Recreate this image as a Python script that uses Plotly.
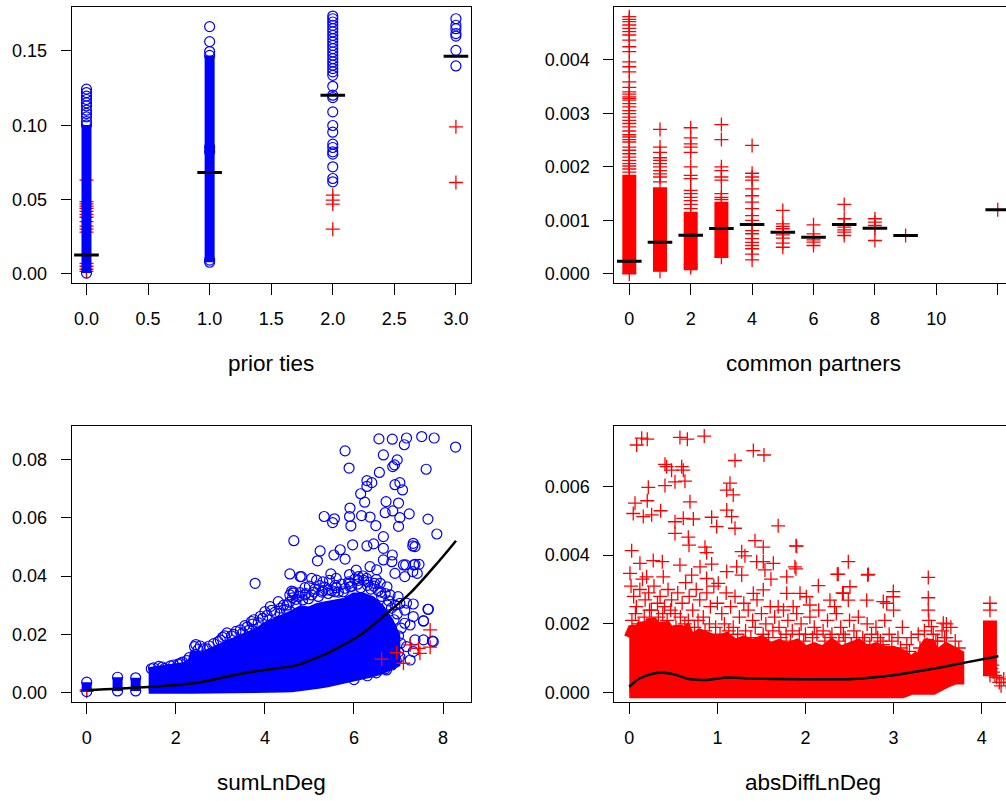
import plotly.graph_objects as go

W, H = 1006, 801
FONT = "Liberation Sans, Arial, Helvetica, sans-serif"
BLUE = "#0000FF"
RED = "#FF0000"
BLACK = "#000000"

# ---------------- prior ties ----------------
ties_cat = [0, 1, 2, 3]
ties_mean = [0.0126, 0.0682, 0.1202, 0.1464]
# dense, fully overlapping runs of circles (category, lowest, highest)
ties_core_x = [0, 1]
ties_core_lo = [0.0004, 0.0077]
ties_core_hi = [0.1002, 0.1470]
ties_blue_0 = [0.0004, 0.1002, 0.1025, 0.1056, 0.1079, 0.1101, 0.1130, 0.1151,
               0.1173, 0.1196, 0.1220, 0.1243]
ties_blue_1 = [0.0077, 0.0092, 0.0822, 0.0851, 0.1470, 0.1496, 0.1563, 0.1664]
ties_blue_2 = [0.1735, 0.1717, 0.1695, 0.1673, 0.1650, 0.1628, 0.1605, 0.1583,
               0.1560, 0.1538, 0.1516, 0.1493, 0.1471, 0.1448, 0.1426, 0.1404,
               0.1381, 0.1359, 0.1336, 0.1262, 0.1202, 0.1186, 0.1090, 0.0998,
               0.0953, 0.0872, 0.0850, 0.0821, 0.0805, 0.0720, 0.0641, 0.0619]
ties_blue_3 = [0.1717, 0.1673, 0.1650, 0.1617, 0.1600, 0.1504, 0.1399]
ties_red_0 = [0.0630, 0.0485, 0.0470, 0.0455, 0.0440, 0.0420, 0.0400, 0.0380,
              0.0350, 0.0320, 0.0300, 0.0280, 0.0070, 0.0050, 0.0030, 0.0015]
ties_red_2 = [0.0529, 0.0496, 0.0469, 0.0300]
ties_red_3 = [0.0989, 0.0614]

# ---------------- common partners ----------------
cp_cat = [0, 1, 2, 3, 4, 5, 6, 7, 8, 9, 12]
cp_mean = [0.000236, 0.000592, 0.000723, 0.000848, 0.000923, 0.000779,
           0.000686, 0.000923, 0.000854, 0.000717, 0.001198]
cp_core_x = [0, 1, 2, 3]
cp_core_lo = [0.00000, 0.00005, 0.00007, 0.00031]
cp_core_hi = [0.00185, 0.00162, 0.00116, 0.00135]
cp_red = {
    0: [0.004806, 0.004756, 0.004712, 0.004650, 0.004587, 0.004525, 0.004463,
        0.004369, 0.004244, 0.004151, 0.003963, 0.003870, 0.003776, 0.003589,
        0.003483, 0.003401, 0.003360, 0.003308, 0.003280, 0.003245, 0.003180,
        0.003120, 0.003050, 0.002995, 0.002930, 0.002870, 0.002810, 0.002745,
        0.002670, 0.002600, 0.002558, 0.002510, 0.002464, 0.002370, 0.002310,
        0.002245, 0.002180, 0.002120, 0.002060, 0.002016, 0.001960, 0.001903,
        0.000000],
    1: [0.00270, 0.00237, 0.00227, 0.00217, 0.00212, 0.00206, 0.00200, 0.00193,
        0.00187, 0.00181, 0.00172, 0.00005],
    2: [0.00273, 0.00254, 0.00243, 0.00237, 0.00227, 0.00200, 0.00184, 0.00178,
        0.00156, 0.00150, 0.00143, 0.00137, 0.00130, 0.00122, 0.00018, 0.00012],
    3: [0.00279, 0.00251, 0.00200, 0.00193, 0.00181, 0.00175, 0.00150, 0.00143,
        0.00139, 0.00031],
    4: [0.00240, 0.00188, 0.00181, 0.00175, 0.00159, 0.00146, 0.00134, 0.00122,
        0.00109, 0.00100, 0.00092, 0.00081, 0.00075, 0.00066, 0.00059, 0.00053,
        0.00047, 0.00037, 0.00026],
    5: [0.001185, 0.000936, 0.000886, 0.000843, 0.000779, 0.000730, 0.000667,
        0.000573, 0.000498],
    6: [0.000917, 0.000749, 0.000686, 0.000637, 0.000592, 0.000530],
    7: [0.001298, 0.001030, 0.000923, 0.000873, 0.000824, 0.000779, 0.000717],
    8: [0.001030, 0.000966, 0.000904, 0.000854, 0.000624],
    9: [0.000717],
    12: [0.001198],
}

# ---------------- sumLnDeg ----------------
sld_fit_x = [0.0, 1.27, 2.39, 3.52, 4.64, 4.79, 5.39, 5.54, 6.14, 6.29, 6.74, 7.26, 7.93, 8.29]
sld_fit_y = [0.0009, 0.0019, 0.0032, 0.0067, 0.0092, 0.0098, 0.0135, 0.0146,
             0.0198, 0.0215, 0.0272, 0.0341, 0.0455, 0.0521]
# stacked columns at the smallest degree sums
sld_col_x = [0.0, 0.693, 1.099]
sld_col_lo = [0.0004, 0.0006, 0.0006]
sld_col_hi = [0.0036, 0.0053, 0.0051]
# outline of the region that is solidly covered by circles
sld_env_x = [1.39, 1.6, 1.8, 2.0, 2.2, 2.35, 2.4, 2.6, 2.8, 3.0, 3.2, 3.4, 3.6, 3.8,
             4.0, 4.2, 4.4, 4.6, 4.8, 5.0, 5.2, 5.4, 5.6, 5.8, 6.0, 6.2, 6.4, 6.6,
             6.8, 6.95]
sld_env_hi = [0.0074, 0.0078, 0.0080, 0.0086, 0.0092, 0.0105, 0.0132, 0.0128,
              0.0142, 0.0160, 0.0175, 0.0182, 0.0195, 0.0205, 0.0228, 0.0240,
              0.0250, 0.0268, 0.0285, 0.0282, 0.0295, 0.0302, 0.0305, 0.0312,
              0.0330, 0.0330, 0.0318, 0.0290, 0.0245, 0.0195]
sld_env_lo = [0.0010, 0.0010, 0.0010, 0.0010, 0.0010, 0.0010, 0.0010, 0.0010,
              0.0010, 0.0010, 0.0010, 0.0011, 0.0011, 0.0012, 0.0012, 0.0013,
              0.0014, 0.0015, 0.0018, 0.0022, 0.0027, 0.0032, 0.0037, 0.0043,
              0.0050, 0.0058, 0.0066, 0.0075, 0.0088, 0.0100]
sld_blue_x = [0.0, 0.0, 0.693, 0.693, 1.099, 1.099,
              1.45, 1.7, 1.95, 2.1, 2.3, 2.42, 2.5, 2.7, 2.85, 3.0, 3.1, 3.3, 3.45,
              3.6, 3.7, 3.75, 3.9, 4.0, 4.12, 4.3, 4.34, 4.5, 4.64, 4.7, 4.9, 5.1,
              5.3, 5.6, 5.9, 6.1, 6.3, 6.45, 6.6, 6.75, 6.9, 7.0,
              6.0, 6.3, 6.5, 6.7, 6.85, 6.95, 7.0, 7.05,
              6.56, 6.86, 7.18, 7.52, 7.80, 8.28, 7.13, 5.80, 6.66, 6.97, 6.91, 6.87,
              5.89, 7.62, 6.57, 6.29, 6.40, 6.29, 6.92, 7.03, 7.09, 6.15, 6.24, 6.72,
              7.00, 5.91, 6.70, 6.87, 7.24, 5.33, 5.56, 5.52, 5.90, 6.17, 6.36, 5.93,
              6.49, 7.03, 7.00, 7.66, 7.86, 6.66, 4.65, 5.97, 6.29, 6.44, 6.66, 7.32,
              5.24, 5.18, 5.55, 5.69, 5.80, 4.56, 4.79, 3.78, 5.48, 6.86, 7.16, 7.37,
              7.46, 7.32, 4.82, 4.64, 4.79, 4.56, 5.05, 5.16, 5.23, 5.42, 5.57, 5.76,
              5.91, 6.10, 6.28, 6.51, 6.66, 6.85, 7.11, 7.34, 7.42, 7.14, 6.92, 7.37,
              7.33, 7.67, 7.56, 7.78, 7.33, 7.14, 7.03, 6.99, 6.81, 6.74, 6.59, 6.36,
              7.26, 7.14, 7.06, 7.37, 7.56, 7.18, 7.33, 6.73, 6.88, 7.03, 7.26, 7.66,
              7.56, 7.76, 7.33, 7.18,
              4.05, 4.15, 4.22, 4.35, 4.42, 4.48, 4.55, 4.62, 4.70, 4.76, 4.85, 4.92,
              4.98, 5.05, 5.12, 5.20, 5.28, 5.35, 5.42, 5.50, 5.58, 5.65, 5.72, 5.80,
              5.88, 5.95, 6.02, 6.08, 6.15, 6.22, 6.30, 6.38, 6.46, 6.54, 6.62, 6.70,
              6.78, 6.84, 6.92, 6.97, 5.00, 5.30, 5.60, 5.90, 6.20, 6.50, 4.60, 4.90,
              5.45, 6.05,
              1.50, 1.62, 1.75, 1.88, 2.05, 2.15, 2.25, 2.45, 2.55, 2.62, 2.75, 2.95,
              3.05, 3.15, 3.25, 3.35, 3.50, 3.55, 3.65, 3.72, 3.85, 3.95]
sld_blue_y = [0.0004, 0.0036, 0.0006, 0.0053, 0.0006, 0.0051,
              0.0082, 0.0088, 0.0095, 0.0100, 0.0120, 0.0158, 0.0148, 0.0150, 0.0168,
              0.0180, 0.0195, 0.0200, 0.0215, 0.0225, 0.0244, 0.0250, 0.0262, 0.0278,
              0.0295, 0.0312, 0.0272, 0.0300, 0.0341, 0.0320, 0.0335, 0.0345, 0.0350,
              0.0360, 0.0375, 0.0385, 0.0380, 0.0365, 0.0345, 0.0300, 0.0250, 0.0195,
              0.0045, 0.0058, 0.0068, 0.0082, 0.0095, 0.0110, 0.0140, 0.0170,
              0.0870, 0.0869, 0.0873, 0.0878, 0.0873, 0.0842, 0.0850, 0.0829, 0.0815,
              0.0798, 0.0781, 0.0775, 0.0770, 0.0766, 0.0755, 0.0727, 0.0720, 0.0707,
              0.0713, 0.0720, 0.0695, 0.0682, 0.0653, 0.0655, 0.0650, 0.0633, 0.0617,
              0.0623, 0.0613, 0.0604, 0.0596, 0.0583, 0.0604, 0.0607, 0.0602, 0.0572,
              0.0573, 0.0600, 0.0570, 0.0595, 0.0544, 0.0535, 0.0521, 0.0507, 0.0503,
              0.0510, 0.0495, 0.0503, 0.0486, 0.0452, 0.0472, 0.0490, 0.0458, 0.0407,
              0.0398, 0.0375, 0.0407, 0.0472, 0.0438, 0.0440, 0.0440, 0.0415, 0.0398,
              0.0346, 0.0343, 0.0335, 0.0392, 0.0386, 0.0367, 0.0352, 0.0346, 0.0346,
              0.0363, 0.0398, 0.0392, 0.0421, 0.0455, 0.0449, 0.0438, 0.0438, 0.0409,
              0.0398, 0.0409, 0.0501, 0.0512, 0.0286, 0.0246, 0.0175, 0.0304, 0.0283,
              0.0306, 0.0329, 0.0335, 0.0363, 0.0375, 0.0432, 0.0232, 0.0238, 0.0221,
              0.0181, 0.0181, 0.0158, 0.0141, 0.0078, 0.0101, 0.0123, 0.0112, 0.0286,
              0.0246, 0.0177, 0.0261, 0.0307,
              0.0265, 0.0282, 0.0275, 0.0290, 0.0300, 0.0285, 0.0310, 0.0325, 0.0305,
              0.0330, 0.0318, 0.0340, 0.0322, 0.0335, 0.0355, 0.0330, 0.0345, 0.0362,
              0.0340, 0.0350, 0.0368, 0.0345, 0.0372, 0.0358, 0.0380, 0.0365, 0.0390,
              0.0372, 0.0360, 0.0385, 0.0368, 0.0355, 0.0375, 0.0350, 0.0330, 0.0340,
              0.0315, 0.0290, 0.0300, 0.0270, 0.0365, 0.0380, 0.0392, 0.0405, 0.0400,
              0.0388, 0.0348, 0.0360, 0.0385, 0.0420,
              0.0085, 0.0090, 0.0083, 0.0092, 0.0098, 0.0105, 0.0110, 0.0165, 0.0160,
              0.0150, 0.0160, 0.0175, 0.0190, 0.0205, 0.0195, 0.0210, 0.0205, 0.0230,
              0.0215, 0.0235, 0.0240, 0.0255]
sld_red_x = [0.0, 0.0, 7.71, 6.62, 6.96, 7.11, 7.26, 7.45, 7.48, 7.71]
sld_red_y = [0.0005, 0.0010, 0.0215, 0.0115, 0.0137, 0.0101, 0.0164, 0.0152, 0.0135, 0.0156]

# ---------------- absDiffLnDeg ----------------
adld_fit_x = [0.0, 0.121, 0.272, 0.386, 0.5, 0.69, 0.878, 1.105, 1.408, 2.16, 2.54,
              2.997, 3.41, 3.78, 4.19]
adld_fit_y = [0.000174, 0.00042, 0.00056, 0.00058, 0.00054, 0.00039, 0.00037,
              0.00044, 0.00041, 0.00039, 0.00040, 0.00051, 0.00068, 0.00086, 0.00106]
adld_env_x = [0.00, 0.05, 0.10, 0.15, 0.20, 0.25, 0.30, 0.35, 0.40, 0.45, 0.50,
              0.55, 0.60, 0.65, 0.70, 0.80, 0.90, 1.00, 1.10, 1.20, 1.30, 1.40,
              1.50, 1.60, 1.70, 1.80, 1.90, 2.00, 2.10, 2.20, 2.30, 2.40, 2.50,
              2.60, 2.70, 2.80, 2.90, 3.00, 3.10, 3.20, 3.25, 3.30, 3.35, 3.40,
              3.45, 3.50, 3.60, 3.70, 3.74]
adld_env_hi = [0.0016, 0.0019, 0.0017, 0.0020, 0.0018, 0.0021, 0.0019, 0.0017,
               0.0020, 0.0018, 0.0016, 0.0019, 0.0017, 0.0018, 0.0015, 0.0017,
               0.0016, 0.0015, 0.0016, 0.0014, 0.0015, 0.0014, 0.0015, 0.0013,
               0.0014, 0.0013, 0.0014, 0.0012, 0.0013, 0.0012, 0.0014, 0.0012,
               0.0013, 0.0014, 0.0012, 0.0013, 0.0012, 0.0012, 0.0011, 0.0009,
               0.0010, 0.0009, 0.0013, 0.0015, 0.0012, 0.0011, 0.0013, 0.0012,
               0.0011]
adld_env_lo = [0.0000, 0.0000, 0.0000, 0.0000, 0.0000, 0.0000, 0.0000, 0.0000,
               0.0000, 0.0000, 0.0000, 0.0000, 0.0000, 0.0000, 0.0000, 0.0000,
               0.0000, 0.0000, 0.0000, 0.0000, 0.0000, 0.0000, 0.0000, 0.0000,
               0.0000, 0.0000, 0.0000, 0.0000, 0.0000, 0.0000, 0.0000, 0.0000,
               0.0000, 0.0000, 0.0000, 0.0000, 0.0000, 0.0000, 0.0000, 0.0001,
               0.0001, 0.0001, 0.0001, 0.0001, 0.0001, 0.0001, 0.0003, 0.0004,
               0.0004]
adld_col_x = [4.094]
adld_col_lo = [0.0005]
adld_col_hi = [0.0021]
adld_red_x = [0.084, 0.141, 0.204, 0.575, 0.659, 0.851, 1.408, 1.529, 1.20, 0.405,
              0.424, 0.48, 0.595, 0.613, 0.519, 0.632, 0.405, 0.216, 1.143, 1.106,
              1.18, 0.689, 0.204, 0.065, 0.045, 0.159, 0.254, 0.356, 0.613, 0.519,
              0.727, 0.935, 0.992, 1.106, 1.162, 1.20, 0.519, 0.67, 0.678, 1.69,
              0.027, 0.859, 0.878, 1.427, 1.521, 1.276, 1.313, 1.90, 1.446, 1.521,
              1.635, 2.486, 0.121, 0.272, 0.375, 0.575, 0.803, 0.935, 1.219, 1.88,
              2.372, 1.106, 1.276, 1.54, 1.787, 1.608, 2.146, 2.505, 0.008, 0.197,
              0.386, 0.708, 0.878, 1.01, 1.408, 1.521, 1.787, 1.938, 2.01, 2.278,
              2.429, 2.486, 1.69, 1.86, 2.05, 1.892, 1.892, 2.713, 3.394, 3.394,
              3.394, 2.997, 2.997, 2.695, 2.922, 4.094, 4.094, 3.564, 3.43, 2.361,
              2.706, 2.883, 2.33, 2.42, 3.60,
              0.02, 0.05, 0.08, 0.12, 0.15, 0.18, 0.22, 0.25, 0.28, 0.32, 0.35, 0.40,
              0.44, 0.48, 0.52, 0.55, 0.60, 0.64, 0.68, 0.72, 0.76, 0.80, 0.84, 0.88,
              0.92, 0.96, 1.00, 1.05, 1.10, 1.15, 1.20, 1.25, 1.30, 1.35, 1.40, 1.45,
              1.50, 1.55, 1.60, 1.65, 1.70, 1.75, 1.80, 1.85, 1.90, 1.95, 2.00, 2.05,
              2.10, 2.15, 2.20, 2.25, 2.30, 2.35, 2.40, 2.45, 2.50, 2.55, 2.60, 2.65,
              2.70, 2.75, 2.80, 2.85, 2.90, 2.95, 3.00, 3.05, 3.10, 3.15, 3.20, 3.30,
              3.35, 3.40, 3.45, 3.50, 3.55, 3.60, 3.65, 3.70, 3.74,
              4.094, 4.12, 4.15, 4.17, 4.20, 4.22, 4.25, 4.28, 4.13, 4.11,
              0.03, 0.07, 0.11, 0.17, 0.23, 0.27, 0.33, 0.38, 0.43, 0.47, 0.53, 0.58,
              0.63, 0.67, 0.74, 0.78, 0.86, 0.91, 0.98, 1.03, 1.08, 1.13, 1.18, 1.23,
              1.32, 1.38, 1.43, 1.52, 1.58, 1.63, 1.72, 1.78, 1.83, 1.93, 1.98, 2.08,
              2.13, 2.22, 2.28, 2.38, 2.43, 2.52, 2.58, 2.67, 2.73, 2.82, 2.88, 2.98,
              3.08, 3.18, 3.28, 3.38, 3.48, 3.58, 3.68]
adld_red_y = [0.00720, 0.00740, 0.00737, 0.00742, 0.00737, 0.00746, 0.00704,
              0.00691, 0.00675, 0.00664, 0.00657, 0.00647, 0.00657, 0.00647,
              0.00613, 0.00615, 0.00602, 0.00597, 0.00609, 0.00589, 0.00575,
              0.00555, 0.00558, 0.00551, 0.00521, 0.00512, 0.00517, 0.00529,
              0.00507, 0.00497, 0.00505, 0.00510, 0.00483, 0.00531, 0.00512,
              0.00478, 0.00463, 0.00452, 0.00429, 0.00485, 0.00413, 0.00423,
              0.00407, 0.00442, 0.00423, 0.00410, 0.00398, 0.00426, 0.00381,
              0.00381, 0.00376, 0.00381, 0.00376, 0.00384, 0.00381, 0.00371,
              0.00366, 0.00374, 0.00366, 0.00366, 0.00345, 0.00352, 0.00342,
              0.00357, 0.00337, 0.00330, 0.00311, 0.00308, 0.00347, 0.00337,
              0.00337, 0.00342, 0.00332, 0.00318, 0.00289, 0.00299, 0.00289,
              0.00289, 0.00279, 0.00269, 0.00289, 0.00269, 0.00250, 0.00250,
              0.00255, 0.00427, 0.00360, 0.00344, 0.00335, 0.00276, 0.00240,
              0.00294, 0.00279, 0.00269, 0.00260, 0.00260, 0.00240, 0.00202,
              0.00192, 0.00344, 0.00342, 0.00265, 0.00250, 0.00290, 0.00200,
              0.0031, 0.0028, 0.0025, 0.0030, 0.0033, 0.0027, 0.0029, 0.0024, 0.0031,
              0.0026, 0.0028, 0.0025, 0.0030, 0.0027, 0.0023, 0.0029, 0.0026, 0.0032,
              0.0028, 0.0024, 0.0030, 0.0027, 0.0022, 0.0029, 0.0025, 0.0031, 0.0026,
              0.0023, 0.0029, 0.0025, 0.0028, 0.0022, 0.0026, 0.0024, 0.0021, 0.0027,
              0.0023, 0.0020, 0.0025, 0.0022, 0.0019, 0.0024, 0.0021, 0.0018, 0.0023,
              0.0020, 0.0017, 0.0022, 0.0019, 0.0024, 0.0018, 0.0021, 0.0017, 0.0023,
              0.0019, 0.0016, 0.0021, 0.0018, 0.0022, 0.0016, 0.0020, 0.0017, 0.0019,
              0.0015, 0.0021, 0.0017, 0.0024, 0.0016, 0.0019, 0.0014, 0.0016, 0.0013,
              0.0018, 0.0021, 0.0017, 0.0015, 0.0018, 0.0016, 0.0019, 0.0015, 0.0013,
              0.0005, 0.0008, 0.0005, 0.00045, 0.0003, 0.0002, 0.0004, 0.0003, 0.0006, 0.0007,
              0.0021, 0.0023, 0.0020, 0.0022, 0.0024, 0.0020, 0.0022, 0.0023, 0.0021,
              0.0024, 0.0019, 0.0022, 0.0020, 0.0021, 0.0019, 0.0021, 0.0018, 0.0020,
              0.0019, 0.0017, 0.0020, 0.0018, 0.0019, 0.0017, 0.0018, 0.0016, 0.0019,
              0.0017, 0.0016, 0.0018, 0.0016, 0.0017, 0.0015, 0.0017, 0.0015, 0.0016,
              0.0017, 0.0015, 0.0016, 0.0015, 0.0017, 0.0014, 0.0016, 0.0015, 0.0014,
              0.0016, 0.0014, 0.0015, 0.0013, 0.0012, 0.0017, 0.0014, 0.0015, 0.0016]

# ---------------- layout geometry (pixels) ----------------
COL_L = (71.7, 470.7)      # left column plot box
COL_R = (614.3, 1006.0)    # right column plot box (runs off the page)
ROW_T = (7.3, 283.3)       # top row plot box
ROW_B = (426.0, 702.0)     # bottom row plot box


def xdom(px):
    return [px[0] / W, px[1] / W]


def ydom(py):
    return [1 - py[1] / H, 1 - py[0] / H]


def axis_x(dom, rng, vals, fmt, anchor, mirror):
    return dict(domain=dom, range=rng, tickvals=vals, tickformat=fmt, anchor=anchor,
                ticks="outside", ticklen=11, tickwidth=1, tickcolor=BLACK,
                showline=True, linecolor=BLACK, linewidth=1, mirror=mirror,
                showgrid=False, zeroline=False, fixedrange=True,
                ticklabelstandoff=8,
                tickfont=dict(family=FONT, size=18, color=BLACK))


def axis_y(dom, rng, vals, fmt, anchor, mirror):
    return dict(domain=dom, range=rng, tickvals=vals, tickformat=fmt, anchor=anchor,
                ticks="outside", ticklen=10, tickwidth=1, tickcolor=BLACK,
                showline=True, linecolor=BLACK, linewidth=1, mirror=mirror,
                showgrid=False, zeroline=False, fixedrange=True,
                ticklabelstandoff=10,
                tickfont=dict(family=FONT, size=18, color=BLACK))


fig = go.Figure()

CIRCLE = dict(symbol="circle-open", size=10, color=BLUE, line=dict(width=1.2, color=BLUE))
PLUS = dict(symbol="cross-thin-open", size=10, color=RED, line=dict(width=1.3, color=RED))


def pts(x, y, marker, ax):
    fig.add_trace(go.Scatter(x=x, y=y, mode="markers", marker=marker, hoverinfo="skip",
                             xaxis="x" + ax, yaxis="y" + ax, showlegend=False))


def columns(xs, lo, hi, color, width, ax):
    cx, cy = [], []
    for c, a, b in zip(xs, lo, hi):
        cx += [c, c, None]
        cy += [a, b, None]
    fig.add_trace(go.Scatter(x=cx, y=cy, mode="lines", line=dict(color=color, width=width),
                             hoverinfo="skip", xaxis="x" + ax, yaxis="y" + ax,
                             showlegend=False))


def region(xs, hi, lo, color, width, ax):
    fig.add_trace(go.Scatter(x=xs + xs[::-1], y=hi + lo[::-1], mode="lines", fill="toself",
                             fillcolor=color, line=dict(color=color, width=width),
                             hoverinfo="skip", xaxis="x" + ax, yaxis="y" + ax,
                             showlegend=False))


def means(cats, vals, half, ax):
    mx, my = [], []
    for c, v in zip(cats, vals):
        mx += [c - half, c + half, None]
        my += [v, v, None]
    fig.add_trace(go.Scatter(x=mx, y=my, mode="lines", line=dict(color=BLACK, width=3),
                             hoverinfo="skip", xaxis="x" + ax, yaxis="y" + ax,
                             showlegend=False))


def fit(x, y, ax):
    fig.add_trace(go.Scatter(x=x, y=y, mode="lines", line=dict(color=BLACK, width=2.5, shape="spline"),
                             hoverinfo="skip", xaxis="x" + ax, yaxis="y" + ax,
                             showlegend=False))


# panel 1: prior ties (red drawn first, blue on top)
tr_x, tr_y = [], []
for c, vals in zip([0, 2, 3], [ties_red_0, ties_red_2, ties_red_3]):
    tr_x += [c] * len(vals)
    tr_y += vals
pts(tr_x, tr_y, PLUS, "")
columns(ties_core_x, ties_core_lo, ties_core_hi, BLUE, 10, "")
tb_x, tb_y = [], []
for c, vals in zip(ties_cat, [ties_blue_0, ties_blue_1, ties_blue_2, ties_blue_3]):
    tb_x += [c] * len(vals)
    tb_y += vals
pts(tb_x, tb_y, CIRCLE, "")
means(ties_cat, ties_mean, 0.1, "")

# panel 2: common partners
columns(cp_core_x, cp_core_lo, cp_core_hi, RED, 14, "2")
cr_x, cr_y = [], []
for c in cp_cat:
    cr_x += [c] * len(cp_red[c])
    cr_y += cp_red[c]
pts(cr_x, cr_y, PLUS, "2")
means(cp_cat, cp_mean, 0.4, "2")

# panel 3: sumLnDeg
pts(sld_red_x[:2], sld_red_y[:2], PLUS, "3")
region(sld_env_x, sld_env_hi, sld_env_lo, BLUE, 8, "3")
columns(sld_col_x, sld_col_lo, sld_col_hi, BLUE, 10, "3")
pts(sld_blue_x, sld_blue_y, CIRCLE, "3")
pts(sld_red_x[2:], sld_red_y[2:], PLUS, "3")
fit(sld_fit_x, sld_fit_y, "3")

# panel 4: absDiffLnDeg
region(adld_env_x, adld_env_hi, adld_env_lo, RED, 11, "4")
columns(adld_col_x, adld_col_lo, adld_col_hi, RED, 14, "4")
pts(adld_red_x, adld_red_y, PLUS, "4")
fit(adld_fit_x, adld_fit_y, "4")

fig.update_layout(
    width=W, height=H, margin=dict(l=0, r=0, t=0, b=0),
    paper_bgcolor="white", plot_bgcolor="white", showlegend=False,
    font=dict(family=FONT, size=18, color=BLACK),
    xaxis=axis_x(xdom(COL_L), [-0.12, 3.12], [0, 0.5, 1, 1.5, 2, 2.5, 3], ".1f", "y", True),
    yaxis=axis_y(ydom(ROW_T), [-0.00647, 0.1794], [0, 0.05, 0.10, 0.15], ".2f", "x", True),
    xaxis2=axis_x(xdom(COL_R), [-0.4886, 12.27], [0, 2, 4, 6, 8, 10, 12], "d", "y2", True),
    yaxis2=axis_y(ydom(ROW_T), [-0.000176, 0.004981], [0, 0.001, 0.002, 0.003, 0.004], ".3f", "x2", False),
    xaxis3=axis_x(xdom(COL_L), [-0.337, 8.62], [0, 2, 4, 6, 8], "d", "y3", True),
    yaxis3=axis_y(ydom(ROW_B), [-0.00319, 0.09142], [0, 0.02, 0.04, 0.06, 0.08], ".2f", "x3", True),
    xaxis4=axis_x(xdom(COL_R), [-0.170, 4.276], [0, 1, 2, 3, 4], "d", "y4", True),
    yaxis4=axis_y(ydom(ROW_B), [-0.00027, 0.007753], [0, 0.002, 0.004, 0.006], ".3f", "x4", False),
)

# axis titles
titles = [("prior ties", 271.2, 363.0), ("common partners", 813.4, 363.0),
          ("sumLnDeg", 271.2, 782.7), ("absDiffLnDeg", 813.4, 782.7)]
for text, px, py in titles:
    fig.add_annotation(text=text, x=px / W, y=1 - py / H, xref="paper", yref="paper",
                       xanchor="center", yanchor="middle", showarrow=False,
                       font=dict(family=FONT, size=22.5, color=BLACK))

fig.write_html("out.html")
